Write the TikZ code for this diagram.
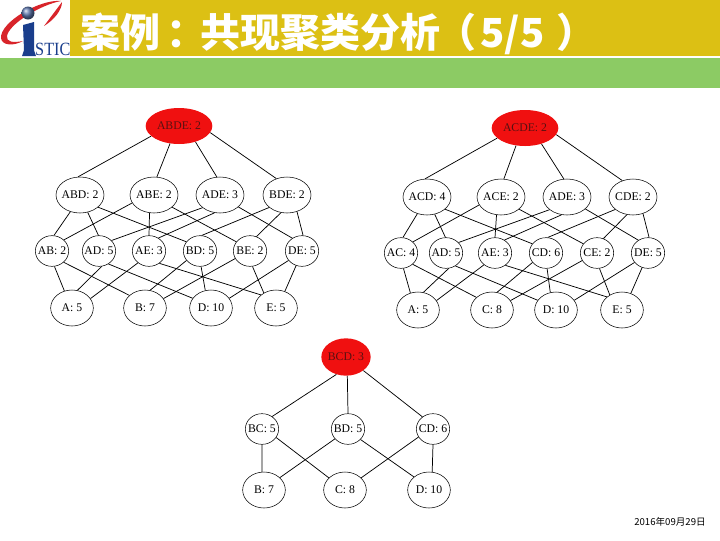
\documentclass[tikz,border=0pt]{standalone}
\usepackage{fontspec}
\setmainfont{Liberation Serif}
\newfontfamily\cjkfont{Noto Sans CJK SC}
\usetikzlibrary{shapes.geometric}
\definecolor{titlegold}{HTML}{DCC014}
\definecolor{bandgreen}{HTML}{8CCB64}
\definecolor{topred}{HTML}{F01010}
\definecolor{toptext}{HTML}{581010}
\definecolor{logoblue}{HTML}{1A3E8C}
\definecolor{logored}{HTML}{D8242A}
\newcommand{\setlabel}[1]{\makebox[0pt]{#1}}
\tikzset{
    itemset/.style={draw, ellipse, inner sep=0pt, font=\fontsize{8.8pt}{10pt}\selectfont},
    midset/.style={itemset, minimum width=36pt, minimum height=27pt},
    lowset/.style={itemset, minimum width=25pt, minimum height=23pt},
    oneset/.style={itemset, minimum width=32pt, minimum height=27pt},
    topset/.style={itemset, draw=none, fill=topred, text=toptext, minimum width=50pt, minimum height=27pt},
    link/.style={draw, line width=0.55pt}
}
% Kanten eines Gitters mit vier Elementen
\newcommand{\latticelinks}[1]{
    \foreach \from/\fa/\to/\ta in {top/200/n1/96, top/243/n2/81, top/316/n3/100, top/348/n4/123,
        n1/240/m1/83, n1/294/m2/92, n1/326/m4/146,
        n2/200/m1/43, n2/256/m3/90, n2/326/m5/146,
        n3/216/m2/40, n3/253/m3/54, n3/327/m6/127,
        n4/215/m4/84, n4/251/m5/66, n4/301/m6/86,
        m1/279/s1/114, m1/316/s2/141, m2/280/s1/73, m2/306/s3/152, m3/227/s1/27, m3/310/s4/139,
        m4/215/s2/74, m4/274/s3/108, m5/207/s2/27, m5/279/s4/129, m6/215/s3/28, m6/248/s4/62}
        \draw[link] (#1\from.\fa) -- (#1\to.\ta);
}
\begin{document}
\begin{tikzpicture}[x=0.75pt, y=-0.75pt]
    \useasboundingbox (0,0) rectangle (720,540);
    % Kopfzeile
    \fill[titlegold] (70,0) rectangle (720,56);
    \fill[bandgreen] (0,58) rectangle (720,88);
    \node[text=white, anchor=west, inner sep=0pt, font=\fontsize{30pt}{32pt}\selectfont\cjkfont\bfseries] (title) at (80,34) {案例\hspace{4.5pt}\char"FF1A\hspace{-4.5pt}共现聚类分析\hspace{-3pt}\char"FF08\hspace{3pt}5/5\hspace{9pt}\char"FF09};

    % Logo
    \fill[logored] (61,1) .. controls (40,-1) and (0,22) .. (1,38) .. controls (2,46) and (14,46) .. (23,41) .. controls (13,43) and (6,42) .. (7,36) .. controls (9,24) and (40,5) .. (61,1) -- cycle;
    \fill[logored] (62,2) .. controls (62,10) and (54,20) .. (44,26) .. controls (50,18) and (56,10) .. (62,2) -- cycle;
    \fill[logoblue] (23,25) -- (34,22) -- (34,50) -- (36,56) -- (22,56) -- (24,50) -- cycle;
    \shade[ball color=logoblue!70] (28,13) circle (6.5);
    \node[anchor=west, inner sep=0pt, xscale=0.87, text=logoblue, font=\fontsize{14pt}{15pt}\selectfont] (logotext) at (35,49) {STIC};

    % Gitter ABDE
    \node[topset] (ltop) at (179,126) {\setlabel{ABDE: 2}};
    \foreach \name/\text/\xpos in {n1/ABD: 2/80, n2/ABE: 2/154, n3/ADE: 3/220, n4/BDE: 2/287}
        \node[midset] (l\name) at (\xpos,195) {\setlabel{\text}};
    \foreach \name/\text/\xpos in {m1/AB: 2/52, m2/AD: 5/99, m3/AE: 3/149, m4/BD: 5/200, m5/BE: 2/250, m6/DE: 5/302}
        \node[lowset] (l\name) at (\xpos,251) {\setlabel{\text}};
    \foreach \name/\text/\xpos in {s1/A: 5/72, s2/B: 7/145, s3/D: 10/211, s4/E: 5/276}
        \node[oneset] (l\name) at (\xpos,308) {\setlabel{\text}};
    \latticelinks{l}

    % Gitter ACDE
    \node[topset] (rtop) at (525,128) {\setlabel{ACDE: 2}};
    \foreach \name/\text/\xpos in {n1/ACD: 4/427, n2/ACE: 2/501, n3/ADE: 3/567, n4/CDE: 2/633}
        \node[midset] (r\name) at (\xpos,197) {\setlabel{\text}};
    \foreach \name/\text/\xpos in {m1/AC: 4/401, m2/AD: 5/446, m3/AE: 3/495, m4/CD: 6/546, m5/CE: 2/597, m6/DE: 5/648}
        \node[lowset] (r\name) at (\xpos,253) {\setlabel{\text}};
    \foreach \name/\text/\xpos in {s1/A: 5/418, s2/C: 8/492, s3/D: 10/556, s4/E: 5/622}
        \node[oneset] (r\name) at (\xpos,310) {\setlabel{\text}};
    \latticelinks{r}

    % Gitter BCD
    \node[topset, minimum width=37pt, minimum height=28pt] (btop) at (346,357) {\setlabel{BCD: 3}};
    \foreach \name/\text/\xpos in {m1/BC: 5/262, m2/BD: 5/348, m3/CD: 6/433}
        \node[lowset] (b\name) at (\xpos,429) {\setlabel{\text}};
    \foreach \name/\text/\xpos in {s1/B: 7/264, s2/C: 8/345, s3/D: 10/429}
        \node[oneset] (b\name) at (\xpos,490) {\setlabel{\text}};
    \foreach \from/\fa/\to/\ta in {top/241/m1/51, top/274/m2/90, top/322/m3/131,
        m1/270/s1/96, m1/329/s2/143, m2/217/s1/38, m2/320/s3/139, m3/209/s2/37, m3/270/s3/80}
        \draw[link] (b\from.\fa) -- (b\to.\ta);

    % Datum
    \node[anchor=east, inner sep=0pt, font=\fontsize{7.2pt}{8pt}\selectfont\cjkfont] (date) at (706,522) {2016年09月29日};
\end{tikzpicture}
\end{document}
